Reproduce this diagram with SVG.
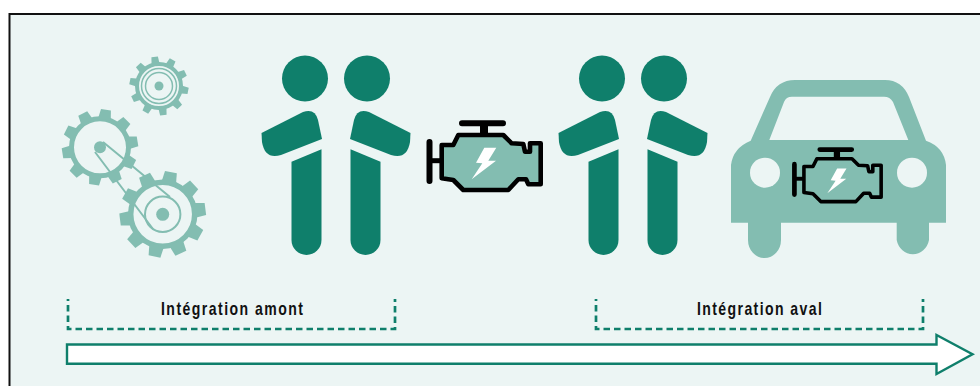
<svg xmlns="http://www.w3.org/2000/svg" xmlns:xlink="http://www.w3.org/1999/xlink" width="980" height="386" viewBox="0 0 980 386">
<style>
.dark{fill:#0f7f6b}.light{fill:#83bdb1}.bg{fill:#ecf5f4}
.ring{fill:none;stroke:#83bdb1}
.lbl{font-family:"Liberation Sans",Arial,sans-serif;font-weight:700;font-size:18px;fill:#111}
.dash{fill:none;stroke:#0f7f6b;stroke-width:2.700;stroke-dasharray:6.500 4;stroke-dashoffset:4.500}
</style>
<defs>
<g id="person-left">
<circle cx="305" cy="78.500" r="23"/>
<path d="M261.500 133L303 112Q315 108 318 120L322 139L281 155Q265 160 262 142Z"/>
<path d="M291.500 161.700L321.500 149.300V240A15 15 0 0 1 291.500 240Z"/>
</g>
<g id="engine">
<path d="M462 123.300H503M429.500 142V181" fill="none" stroke="#000" stroke-width="6" stroke-linecap="round"/>
<path d="M484 123V135" fill="none" stroke="#000" stroke-width="8"/>
<path d="M431 160.700H442" fill="none" stroke="#000" stroke-width="5"/>
<path d="M441.700 145H453.300L458.300 135H503.300L511.700 143.300L523.300 144L525 151.700H530V143.300H540.700V184.300H528.300L526 179.300H518.300L508.300 190H463.300L453.300 180L441.700 178.300Z" fill="#83bdb1" stroke="#000" stroke-width="4.600" stroke-linejoin="round"/>
<path d="M484.300 147.700H496.300L488.300 160.700H496L471.700 179.300L482.300 163.300L476 162.700Z" fill="#fff"/>
</g>
</defs>
<rect x="9.500" y="14" width="975" height="375" fill="#ecf5f4" stroke="#111" stroke-width="2"/>
<g id="gears">
<g id="gear-small">
<circle class="ring" cx="159" cy="86" r="22" stroke-width="4"/>
<g class="light"><path id="t1" d="M155 56.500h6.500l1 9h-8.500z" transform="rotate(-7 159 86)"/><use xlink:href="#t1" transform="rotate(36 159 86)"/><use xlink:href="#t1" transform="rotate(72 159 86)"/><use xlink:href="#t1" transform="rotate(108 159 86)"/><use xlink:href="#t1" transform="rotate(144 159 86)"/><use xlink:href="#t1" transform="rotate(180 159 86)"/><use xlink:href="#t1" transform="rotate(216 159 86)"/><use xlink:href="#t1" transform="rotate(252 159 86)"/><use xlink:href="#t1" transform="rotate(288 159 86)"/><use xlink:href="#t1" transform="rotate(324 159 86)"/></g>
<circle class="ring" cx="159" cy="86" r="17.500" stroke-width="1.500"/><circle class="ring" cx="159" cy="86" r="13.500" stroke-width="1.500"/>
<circle class="light" cx="159" cy="86" r="4.500"/>
</g>
<g id="gear-left">
<circle class="ring" cx="100" cy="147.300" r="28.500" stroke-width="5"/>
<g class="light"><path id="t2" d="M95 109.300h10l1.500 10h-13z" transform="rotate(9 100 147.300)"/><use xlink:href="#t2" transform="rotate(36 100 147.300)"/><use xlink:href="#t2" transform="rotate(72 100 147.300)"/><use xlink:href="#t2" transform="rotate(108 100 147.300)"/><use xlink:href="#t2" transform="rotate(144 100 147.300)"/><use xlink:href="#t2" transform="rotate(180 100 147.300)"/><use xlink:href="#t2" transform="rotate(216 100 147.300)"/><use xlink:href="#t2" transform="rotate(252 100 147.300)"/><use xlink:href="#t2" transform="rotate(288 100 147.300)"/><use xlink:href="#t2" transform="rotate(324 100 147.300)"/></g>
<circle class="light" cx="100" cy="147.300" r="6"/>
</g>
<g id="gear-right">
<circle class="ring" cx="162.700" cy="214.300" r="32" stroke-width="5.500"/>
<g class="light"><path id="t3" d="M156.700 171.300h12l1.500 12h-15z" transform="rotate(11 162.700 214.300)"/><use xlink:href="#t3" transform="rotate(36 162.700 214.300)"/><use xlink:href="#t3" transform="rotate(72 162.700 214.300)"/><use xlink:href="#t3" transform="rotate(108 162.700 214.300)"/><use xlink:href="#t3" transform="rotate(144 162.700 214.300)"/><use xlink:href="#t3" transform="rotate(180 162.700 214.300)"/><use xlink:href="#t3" transform="rotate(216 162.700 214.300)"/><use xlink:href="#t3" transform="rotate(252 162.700 214.300)"/><use xlink:href="#t3" transform="rotate(288 162.700 214.300)"/><use xlink:href="#t3" transform="rotate(324 162.700 214.300)"/></g>
<circle class="ring" cx="162.700" cy="214.300" r="17.700" stroke-width="2"/>
<circle class="light" cx="162.700" cy="214.300" r="6.500"/>
</g>
<path d="M103 142L170 197M95 152L153 229" class="ring" stroke-width="2"/>
</g>
<g id="person-1" class="dark"><use xlink:href="#person-left"/></g>
<g id="person-2" class="dark"><use xlink:href="#person-left" transform="translate(672 0) scale(-1 1)"/></g>
<g id="engine-1"><use xlink:href="#engine"/></g>
<g id="person-3" class="dark"><use xlink:href="#person-left" transform="translate(297 0)"/></g>
<g id="person-4" class="dark"><use xlink:href="#person-left" transform="translate(969 0) scale(-1 1)"/></g>
<g id="car">
<path class="light" fill-rule="evenodd" d="M731 222.700V165Q733 148 750.700 140.700L770 97Q777 80 795 80H885Q902 80 909 97L926 140.700Q944 147 946 165V222.700H929V240A16.500 18 0 0 1 896.700 240V222.700H781V240A16.500 18 0 0 1 748 240V222.700ZM769.300 140H908.300L893 102Q890 96.700 884 96.700H792Q786 96.700 784 102Z"/>
<circle class="bg" cx="765" cy="172.700" r="15"/><circle class="bg" cx="912" cy="172.700" r="15"/>
<g transform="translate(459.400 53.400) scale(.78)"><use xlink:href="#engine"/></g>
</g>
<g id="connectors">
<path class="dash" d="M68 299V329H395V299"/>
<path class="dash" d="M596 299V329H923V299"/>
<path d="M67 344.500H936.500V335L972.500 354.300L936.500 374V363.700H67Z" fill="#fff" stroke="#0f7f6b" stroke-width="2.400"/>
</g>
<text class="lbl" transform="translate(161 315) scale(.78 1)" textLength="182" lengthAdjust="spacing">Intégration amont</text>
<text class="lbl" transform="translate(697 315) scale(.78 1)" textLength="160" lengthAdjust="spacing">Intégration aval</text>
</svg>
